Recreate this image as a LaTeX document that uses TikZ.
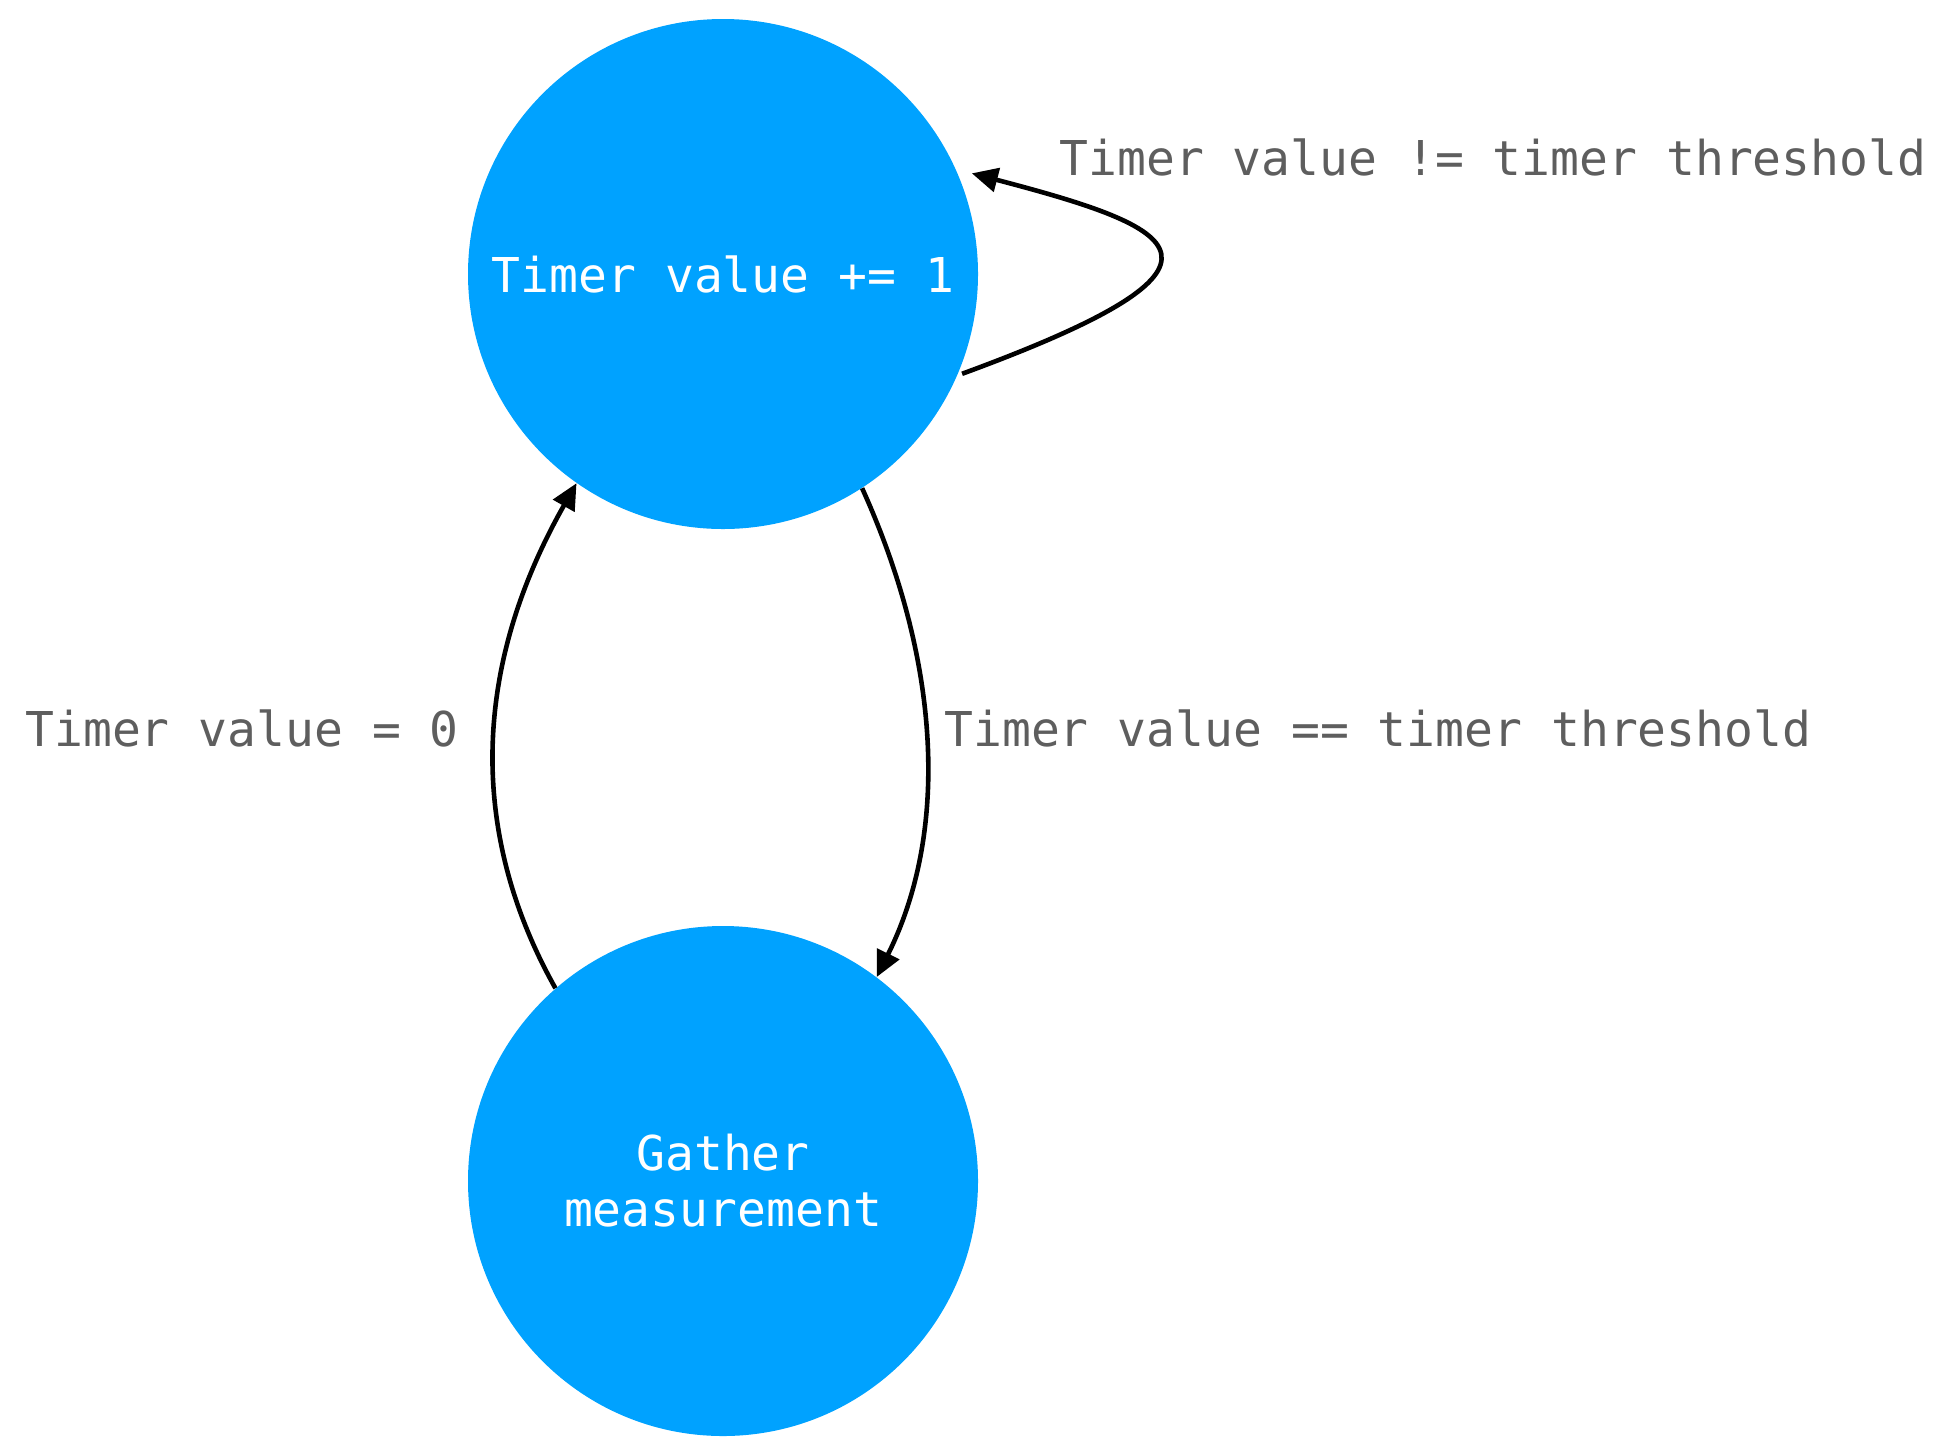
\documentclass[tikz,border=0pt]{standalone}
\usepackage{fontspec}
\setmonofont{DejaVu Sans Mono}
\usetikzlibrary{arrows.meta}
\definecolor{stateblue}{HTML}{00A2FF}
\definecolor{labelgray}{HTML}{5E5E5E}
\tikzset{
  state/.style={circle, fill=stateblue, draw=none, minimum size=255pt, inner sep=0pt,
    text=white, font=\ttfamily\fontsize{24pt}{28pt}\selectfont, align=center},
  edgelabel/.style={anchor=base west, text=labelgray, inner sep=0pt,
    font=\ttfamily\fontsize{24pt}{28pt}\selectfont},
  conn/.style={line width=2.3pt, -{Triangle[length=13pt,width=12pt]}}
}
\begin{document}
\begin{tikzpicture}[x=0.5pt,y=-0.5pt]
\useasboundingbox (0,0) rectangle (1942,1436);
\node[state] (top) at (723,274) {Timer value += 1};
\node[state] (bot) at (723,1181) {Gather\\measurement};
% self loop
\draw[conn] ([xshift=2pt]top.-23.5) .. controls +(300,-110) and +(210,55) .. ([xshift=6pt,yshift=2.5pt]top.22);
% left: bottom -> top
\draw[conn] (bot.131) .. controls (475,845) and (465,680) .. (top.235);
% right: top -> bottom
\draw[conn] (top.-57.3) .. controls (940,660) and (950,830) .. (bot.53.8);
\node[edgelabel] (l1) at (1059,175) {Timer value != timer threshold};
\node[edgelabel] (l2) at (25,746) {Timer value = 0};
\node[edgelabel] (l3) at (944,746) {Timer value == timer threshold};
\end{tikzpicture}
\end{document}
